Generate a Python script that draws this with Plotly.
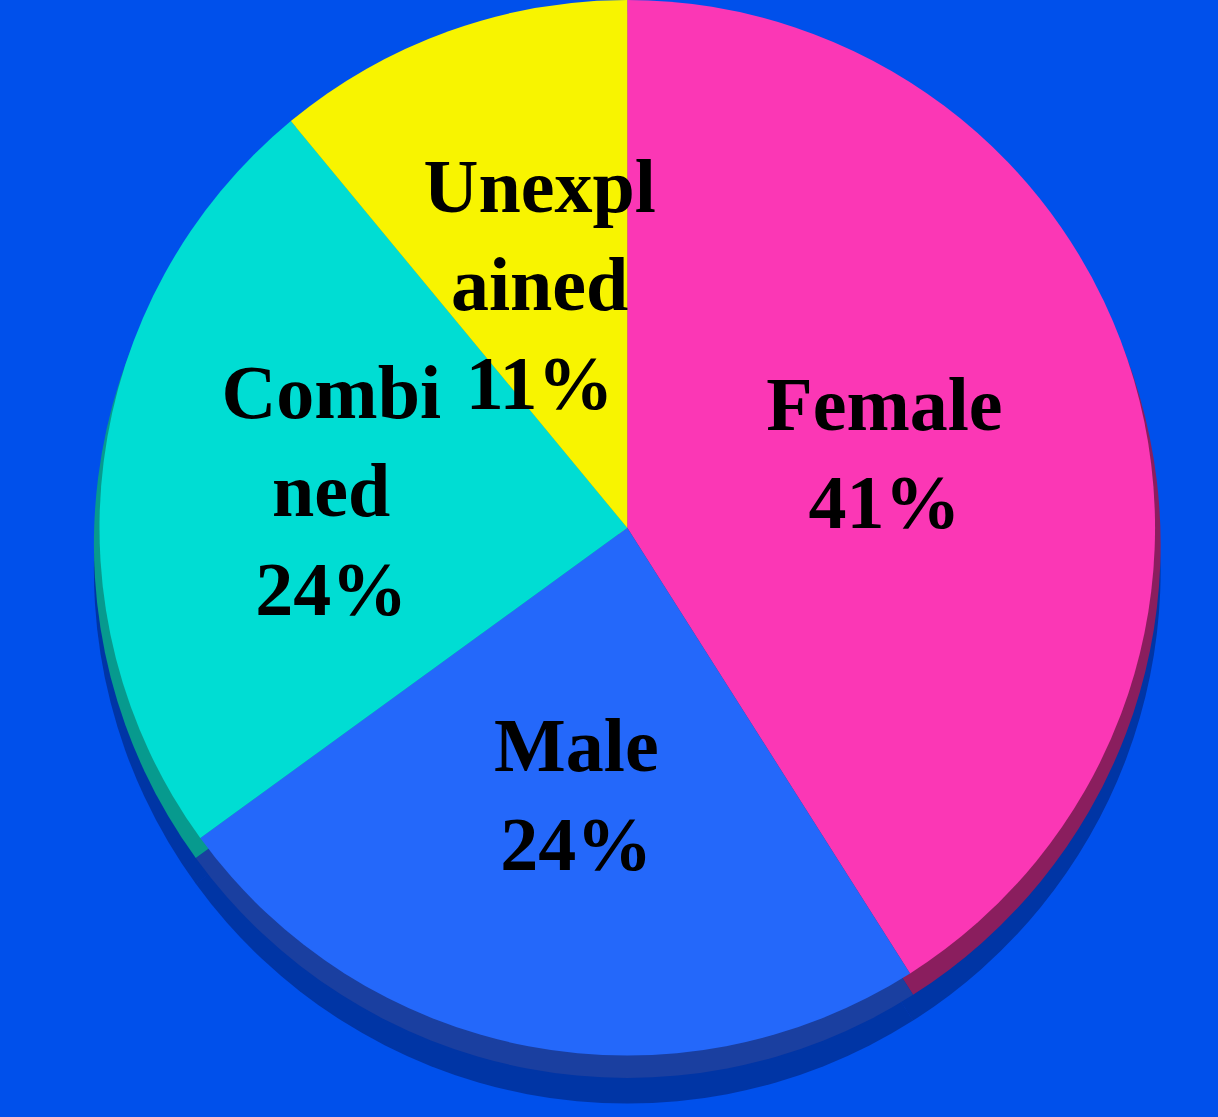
import plotly.graph_objects as go

categories = ["Female", "Male", "Combined", "Unexplained"]
values = [41, 24, 24, 11]
slice_text = ["Female<br>41%", "Male<br>24%", "Combi<br>ned<br>24%", "Unexpl<br>ained<br>11%"]
top_colors = ["#FB37B5", "#2468FA", "#00DDD3", "#F8F400"]
side_colors = ["#8A1E5E", "#1A3FA0", "#079A8E", "#A8A000"]
bg = "#0050EB"

common = dict(labels=categories, values=values, sort=False, direction="clockwise",
              showlegend=False)

CX, CY = 0.515, 0.5275  # pie centre (paper fraction)

fig = go.Figure()

# soft shadow
fig.add_trace(go.Pie(
    **common,
    marker=dict(colors=["rgba(0,20,80,0.45)"] * 4, line=dict(width=0)),
    textinfo="none", hoverinfo="skip",
    domain=dict(x=[0.03, 1.0], y=[0.012, 0.967]),
))
# side (depth) of the 3D pie
fig.add_trace(go.Pie(
    **common,
    marker=dict(colors=side_colors, line=dict(width=0)),
    textinfo="none", hoverinfo="skip",
    domain=dict(x=[0.03, 1.0], y=[0.035, 0.99]),
))
# top face
fig.add_trace(go.Pie(
    **common,
    marker=dict(colors=top_colors, line=dict(width=0)),
    textinfo="none", hoverinfo="label+percent",
    domain=dict(x=[0.03, 1.0], y=[0.055, 1.0]),
))

# labels: transparent pies of different sizes so each label sits where the reference has it
label_groups = [({"Female"}, 0.47), ({"Male"}, 0.41), ({"Combined"}, 0.45), ({"Unexplained"}, 0.31)]
for names, half in label_groups:
    txt = [t if c in names else "" for c, t in zip(categories, slice_text)]
    fig.add_trace(go.Pie(
        **common,
        marker=dict(colors=["rgba(0,0,0,0)"] * 4, line=dict(width=0)),
        text=txt, textinfo="text", texttemplate="%{text}",
        textposition="inside", insidetextorientation="horizontal",
        textfont=dict(family="Liberation Serif", size=76, color="black", weight="bold"),
        hoverinfo="skip",
        domain=dict(x=[CX - half * 1117 / 1218, CX + half * 1117 / 1218],
                    y=[CY - half, CY + half]),
    ))

fig.update_layout(
    width=1218, height=1117,
    margin=dict(l=0, r=0, t=0, b=0),
    paper_bgcolor=bg, plot_bgcolor=bg,
    uniformtext=dict(minsize=76, mode="show"),
    showlegend=False,
)

fig.write_html(
    "out.html",
    config={"displayModeBar": False},
    post_script="document.body.style.margin='0';document.body.style.background='%s';" % bg,
)
